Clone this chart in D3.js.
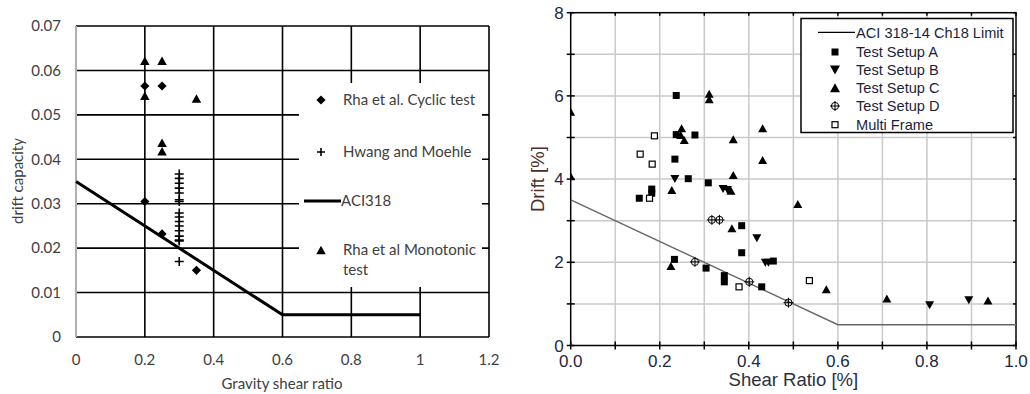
<!DOCTYPE html>
<html>
<head>
<meta charset="utf-8">
<script src="https://cdn.jsdelivr.net/npm/d3@7"></script>
<style>
  body { margin: 0; background: #fff; }
  svg { display: block; }
</style>
</head>
<body>
<svg id="chart" width="1030" height="394"></svg>
<script>
// ---- left chart data ----
const leftXTicks = [0, 0.2, 0.4, 0.6, 0.8, 1, 1.2];
const leftYTicks = [0, 0.01, 0.02, 0.03, 0.04, 0.05, 0.06, 0.07];
const rhaCyclic = [[0.2, 0.0565], [0.25, 0.0565], [0.2, 0.0305], [0.25, 0.0232], [0.35, 0.015]];
const hwangMoehle = [[0.3, 0.0367], [0.3, 0.0357], [0.3, 0.0346], [0.3, 0.0335], [0.3, 0.0324],
  [0.3, 0.0309], [0.3, 0.0305], [0.3, 0.0279], [0.3, 0.027], [0.3, 0.026], [0.3, 0.025],
  [0.3, 0.0239], [0.3, 0.0227], [0.3, 0.0218], [0.3, 0.0216], [0.3, 0.017]];
const rhaMonotonic = [[0.2, 0.0622], [0.25, 0.0622], [0.2, 0.0543], [0.35, 0.0537], [0.25, 0.0437], [0.25, 0.0418]];
const aci318 = [[0, 0.035], [0.6, 0.005], [1, 0.005]];

// ---- right chart data ----
const rightXTicks = [0, 0.2, 0.4, 0.6, 0.8, 1.0];
const rightXMinor = [0.1, 0.3, 0.5, 0.7, 0.9];
const rightYTicks = [0, 2, 4, 6, 8];
const rightYMinor = [1, 3, 5, 7];
const aciCh18 = [[0, 3.5], [0.6, 0.5], [1.0, 0.5]];
const setupA = [[0.237, 6.01], [0.237, 5.07], [0.279, 5.06], [0.234, 4.48], [0.264, 4.01], [0.309, 3.91],
  [0.182, 3.76], [0.182, 3.66], [0.154, 3.54], [0.233, 2.07], [0.304, 1.86], [0.345, 1.68], [0.345, 1.53],
  [0.384, 2.88], [0.384, 2.23], [0.455, 2.03], [0.429, 1.41]];
const setupB = [[0.234, 4.0], [0.342, 3.76], [0.352, 3.74], [0.418, 2.58], [0.437, 1.99], [0.444, 1.99],
  [0.806, 0.97], [0.894, 1.09]];
const setupC = [[0, 5.62], [0, 4.07], [0.311, 6.05], [0.311, 5.92], [0.249, 5.22], [0.247, 5.06], [0.255, 4.94],
  [0.365, 4.96], [0.431, 5.22], [0.431, 4.46], [0.365, 4.1], [0.227, 3.74], [0.36, 3.72], [0.225, 1.91],
  [0.362, 2.82], [0.51, 3.4], [0.574, 1.35], [0.71, 1.13], [0.937, 1.08]];
const setupD = [[0.317, 3.02], [0.334, 3.02], [0.279, 2.01], [0.401, 1.53], [0.489, 1.03]];
const multiFrame = [[0.188, 5.04], [0.156, 4.6], [0.183, 4.36], [0.177, 3.54], [0.378, 1.41], [0.536, 1.56]];

const svg = d3.select("#chart");

// marker path helpers
function triUp(w, h) { return `M0,${-h / 2}L${w / 2},${h / 2}L${-w / 2},${h / 2}Z`; }
function triDown(w, h) { return `M0,${h / 2}L${w / 2},${-h / 2}L${-w / 2},${-h / 2}Z`; }
function diamond(s) { return `M0,${-s}L${s},0L0,${s}L${-s},0Z`; }

// ================= LEFT CHART =================
const lx = d3.scaleLinear().domain([0, 1.2]).range([76, 489]);
const ly = d3.scaleLinear().domain([0, 0.07]).range([337, 26]);
const fmt = d3.format("~g");
const L = svg.append("g").attr("font-family", "Lato, 'Open Sans', sans-serif");

// grid
L.append("g").selectAll("line").data(leftYTicks.slice(1)).join("line")
  .attr("x1", lx(0)).attr("x2", lx(1.2)).attr("y1", d => ly(d)).attr("y2", d => ly(d))
  .attr("stroke", "#000").attr("stroke-width", 1.6);
L.append("g").selectAll("line").data(leftXTicks.slice(1)).join("line")
  .attr("x1", d => lx(d)).attr("x2", d => lx(d)).attr("y1", ly(0)).attr("y2", ly(0.07))
  .attr("stroke", "#000").attr("stroke-width", 1.6);
L.append("line").attr("x1", lx(0)).attr("x2", lx(1.2)).attr("y1", ly(0)).attr("y2", ly(0))
  .attr("stroke", "#000").attr("stroke-width", 1.6);
L.append("line").attr("x1", lx(0)).attr("x2", lx(0)).attr("y1", ly(0)).attr("y2", ly(0.07))
  .attr("stroke", "#b0b0b0").attr("stroke-width", 2);

// tick labels
L.append("g").selectAll("text").data(leftYTicks).join("text")
  .attr("x", 61).attr("y", d => ly(d)).attr("dy", "0.35em").attr("text-anchor", "end")
  .attr("font-size", 15).attr("fill", "#404040").text(d => fmt(d));
L.append("g").selectAll("text").data(leftXTicks).join("text")
  .attr("x", d => lx(d)).attr("y", 365).attr("text-anchor", "middle")
  .attr("font-size", 15).attr("fill", "#404040").text(d => fmt(d));
L.append("text").attr("transform", "translate(23,181) rotate(-90)").attr("text-anchor", "middle")
  .attr("font-size", 15).attr("fill", "#404040").text("drift capacity");
L.append("text").attr("x", 282).attr("y", 389).attr("text-anchor", "middle")
  .attr("font-size", 15).attr("fill", "#404040").text("Gravity shear ratio");

// legend box (white, covers grid)
L.append("rect").attr("x", 299).attr("y", 83).attr("width", 183).attr("height", 204).attr("fill", "#fff");

// ACI318 line
L.append("path").datum(aci318)
  .attr("d", d3.line().x(d => lx(d[0])).y(d => ly(d[1])))
  .attr("fill", "none").attr("stroke", "#000").attr("stroke-width", 3);

// markers
L.append("g").selectAll("path").data(rhaCyclic).join("path")
  .attr("transform", d => `translate(${lx(d[0])},${ly(d[1])})`).attr("d", diamond(4.6)).attr("fill", "#000");
L.append("g").selectAll("path").data(hwangMoehle).join("path")
  .attr("transform", d => `translate(${lx(d[0])},${ly(d[1])})`).attr("d", "M-4.5,0H4.5M0,-4.5V4.5")
  .attr("stroke", "#000").attr("stroke-width", 1.6).attr("fill", "none");
L.append("g").selectAll("path").data(rhaMonotonic).join("path")
  .attr("transform", d => `translate(${lx(d[0])},${ly(d[1])})`).attr("d", triUp(9.5, 8.5)).attr("fill", "#000");

// legend items
const lLeg = L.append("g").attr("font-size", 15).attr("fill", "#404040");
lLeg.append("path").attr("transform", "translate(321,100)").attr("d", diamond(4.6)).attr("fill", "#000");
lLeg.append("text").attr("x", 343).attr("y", 100).attr("dy", "0.35em").text("Rha et al. Cyclic test");
lLeg.append("path").attr("transform", "translate(321,152)").attr("d", "M-4,0H4M0,-4V4")
  .attr("stroke", "#000").attr("stroke-width", 1.6);
lLeg.append("text").attr("x", 343).attr("y", 152).attr("dy", "0.35em").text("Hwang and Moehle");
lLeg.append("line").attr("x1", 304).attr("x2", 341).attr("y1", 201).attr("y2", 201)
  .attr("stroke", "#000").attr("stroke-width", 3);
lLeg.append("text").attr("x", 341).attr("y", 201).attr("dy", "0.35em").text("ACI318");
lLeg.append("path").attr("transform", "translate(321,250)").attr("d", triUp(9.5, 8.5)).attr("fill", "#000");
lLeg.append("text").attr("x", 343).attr("y", 250).attr("dy", "0.35em").text("Rha et al Monotonic");
lLeg.append("text").attr("x", 343).attr("y", 270).attr("dy", "0.35em").text("test");

// ================= RIGHT CHART =================
const rx = d3.scaleLinear().domain([0, 1]).range([570.7, 1016]);
const ry = d3.scaleLinear().domain([0, 8]).range([345.5, 12.7]);
const R = svg.append("g").attr("font-family", "'Liberation Sans', Arial, sans-serif");

R.append("defs").append("clipPath").attr("id", "rclip").append("rect")
  .attr("x", rx(0)).attr("y", ry(8)).attr("width", rx(1) - rx(0)).attr("height", ry(0) - ry(8));

// grid
const gridX = rightXTicks.concat(rightXMinor).filter(d => d > 0 && d < 1);
const gridY = rightYTicks.concat(rightYMinor).filter(d => d > 0 && d < 8);
R.append("g").selectAll("line").data(gridX).join("line")
  .attr("x1", d => rx(d)).attr("x2", d => rx(d)).attr("y1", ry(0)).attr("y2", ry(8))
  .attr("stroke", "#c9c9c9").attr("stroke-width", 1.5);
R.append("g").selectAll("line").data(gridY).join("line")
  .attr("x1", rx(0)).attr("x2", rx(1)).attr("y1", d => ry(d)).attr("y2", d => ry(d))
  .attr("stroke", "#c9c9c9").attr("stroke-width", 1.5);

// axes frame
R.append("rect").attr("x", rx(0)).attr("y", ry(8)).attr("width", rx(1) - rx(0)).attr("height", ry(0) - ry(8))
  .attr("fill", "none").attr("stroke", "#000").attr("stroke-width", 1.5);

// ticks: left / bottom cross the axis, top / right point inward
const allX = rightXTicks.concat(rightXMinor);
const allY = rightYTicks.concat(rightYMinor);
R.append("g").selectAll("line").data(allX).join("line")
  .attr("x1", d => rx(d)).attr("x2", d => rx(d)).attr("y1", ry(0) - 4).attr("y2", ry(0) + 4)
  .attr("stroke", "#000").attr("stroke-width", 1.5);
R.append("g").selectAll("line").data(allX).join("line")
  .attr("x1", d => rx(d)).attr("x2", d => rx(d)).attr("y1", ry(8)).attr("y2", ry(8) + 3)
  .attr("stroke", "#000").attr("stroke-width", 1.5);
R.append("g").selectAll("line").data(allY).join("line")
  .attr("x1", rx(0) - 4).attr("x2", rx(0) + 4).attr("y1", d => ry(d)).attr("y2", d => ry(d))
  .attr("stroke", "#000").attr("stroke-width", 1.5);
R.append("g").selectAll("line").data(allY).join("line")
  .attr("x1", rx(1) - 3).attr("x2", rx(1)).attr("y1", d => ry(d)).attr("y2", d => ry(d))
  .attr("stroke", "#000").attr("stroke-width", 1.5);

// tick labels
R.append("g").selectAll("text").data(rightYTicks).join("text")
  .attr("x", rx(0) - 7).attr("y", d => ry(d)).attr("dy", "0.36em").attr("text-anchor", "end")
  .attr("font-size", 17).attr("fill", "#1d2740").text(d => d);
R.append("g").selectAll("text").data(rightXTicks).join("text")
  .attr("x", d => rx(d)).attr("y", 367).attr("text-anchor", "middle")
  .attr("font-size", 17).attr("fill", "#1d2740").text(d3.format(".1f"));
R.append("text").attr("x", rx(0.5)).attr("y", 386).attr("text-anchor", "middle")
  .attr("font-size", 18.5).attr("fill", "#2b3040").text("Shear Ratio [%]");
R.append("text").attr("transform", `translate(544,${(ry(0) + ry(8)) / 2}) rotate(-90)`).attr("text-anchor", "middle")
  .attr("font-size", 18.5).attr("fill", "#4a3028").text("Drift [%]");

// ACI line
R.append("path").datum(aciCh18)
  .attr("d", d3.line().x(d => rx(d[0])).y(d => ry(d[1])))
  .attr("fill", "none").attr("stroke", "#666").attr("stroke-width", 1.4);

// markers
const M = R.append("g").attr("clip-path", "url(#rclip)");
M.append("g").selectAll("rect").data(setupA).join("rect")
  .attr("x", d => rx(d[0]) - 3.5).attr("y", d => ry(d[1]) - 3.5).attr("width", 7).attr("height", 7).attr("fill", "#000");
M.append("g").selectAll("path").data(setupB).join("path")
  .attr("transform", d => `translate(${rx(d[0])},${ry(d[1])})`).attr("d", triDown(9, 8)).attr("fill", "#000");
M.append("g").selectAll("path").data(setupC).join("path")
  .attr("transform", d => `translate(${rx(d[0])},${ry(d[1])})`).attr("d", triUp(9, 8)).attr("fill", "#000");
const dG = M.append("g").selectAll("g").data(setupD).join("g")
  .attr("transform", d => `translate(${rx(d[0])},${ry(d[1])})`);
dG.append("circle").attr("r", 3.6).attr("fill", "none").attr("stroke", "#000").attr("stroke-width", 1);
dG.append("path").attr("d", "M-5,0H5M0,-5V5").attr("stroke", "#000").attr("stroke-width", 1);
M.append("g").selectAll("rect").data(multiFrame).join("rect")
  .attr("x", d => rx(d[0]) - 3).attr("y", d => ry(d[1]) - 3).attr("width", 6).attr("height", 6)
  .attr("fill", "#fff").attr("stroke", "#000").attr("stroke-width", 1.2);

// legend
const rLeg = R.append("g");
rLeg.append("rect").attr("x", 801).attr("y", 18.5).attr("width", 212).attr("height", 114)
  .attr("fill", "#fff").attr("stroke", "#000").attr("stroke-width", 1.5);
const legRows = ["ACI 318-14 Ch18 Limit", "Test Setup A", "Test Setup B", "Test Setup C", "Test Setup D", "Multi Frame"];
const legY = [32.3, 52, 70, 87.7, 106, 124.7];
rLeg.selectAll("text").data(legRows).join("text")
  .attr("x", 856).attr("y", (d, i) => legY[i]).attr("dy", "0.36em")
  .attr("font-size", 14.6).attr("fill", "#1a1f3a").text(d => d);
rLeg.append("line").attr("x1", 818).attr("x2", 855).attr("y1", legY[0]).attr("y2", legY[0])
  .attr("stroke", "#000").attr("stroke-width", 1.2);
rLeg.append("rect").attr("x", 835 - 3.5).attr("y", legY[1] - 3.5).attr("width", 7).attr("height", 7).attr("fill", "#000");
rLeg.append("path").attr("transform", `translate(835,${legY[2]})`).attr("d", triDown(10, 9)).attr("fill", "#000");
rLeg.append("path").attr("transform", `translate(835,${legY[3]})`).attr("d", triUp(10, 9)).attr("fill", "#000");
rLeg.append("circle").attr("cx", 835).attr("cy", legY[4]).attr("r", 3.6).attr("fill", "none").attr("stroke", "#000");
rLeg.append("path").attr("transform", `translate(835,${legY[4]})`).attr("d", "M-5,0H5M0,-5V5").attr("stroke", "#000");
rLeg.append("rect").attr("x", 835 - 3).attr("y", legY[5] - 3).attr("width", 6).attr("height", 6)
  .attr("fill", "#fff").attr("stroke", "#000").attr("stroke-width", 1.2);
</script>
</body>
</html>
